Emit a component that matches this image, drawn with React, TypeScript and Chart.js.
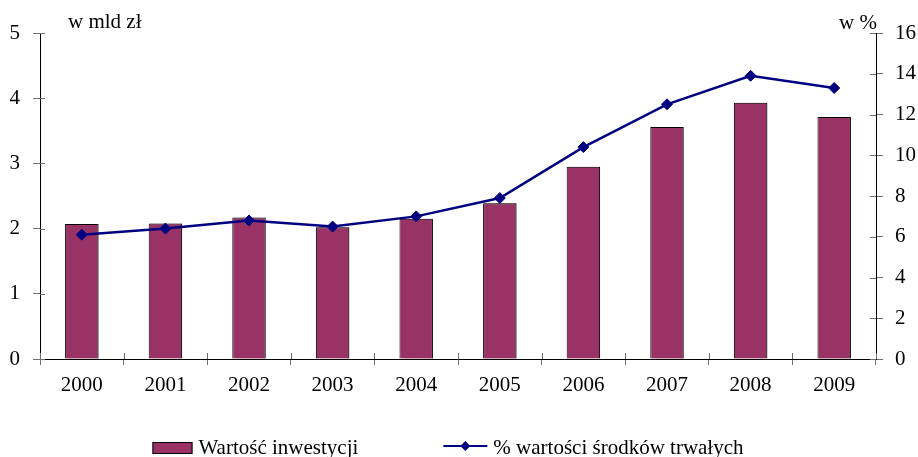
import { useEffect, useRef } from "react";
import { Chart, registerables } from "chart.js";

Chart.register(...registerables);

const years = ["2000", "2001", "2002", "2003", "2004", "2005", "2006", "2007", "2008", "2009"];
const investments = [2.07, 2.08, 2.17, 2.02, 2.15, 2.39, 2.95, 3.56, 3.93, 3.71];
const pctFixedAssets = [6.1, 6.4, 6.8, 6.5, 7.0, 7.9, 10.4, 12.5, 13.9, 13.3];

const barLabel = "Wartość inwestycji";
const lineLabel = "% wartości środków trwałych";
const leftAxisUnit = "w mld zł";
const rightAxisUnit = "w %";

const leftMin = 0;
const leftMax = 5;
const leftStep = 1;
const rightMin = 0;
const rightMax = 16;
const rightStep = 2;

const FONT = '"Liberation Serif", "Times New Roman", serif';
const BAR_COLOR = "#993366";
const LINE_COLOR = "#000080";
const TICK_COLOR = "#707070";

const crossTicksPlugin = {
  id: "crossTicks",
  afterDraw(chart: any) {
    const ctx = chart.ctx;
    ctx.save();
    ctx.strokeStyle = TICK_COLOR;
    ctx.lineWidth = 1;
    const yl = chart.scales.y;
    const yr = chart.scales.y1;
    const x = chart.scales.x;
    ctx.beginPath();
    yl.ticks.forEach((t: any) => {
      const py = Math.round(yl.getPixelForValue(t.value)) + 0.5;
      ctx.moveTo(yl.right, py);
      ctx.lineTo(yl.right + 5, py);
    });
    yr.ticks.forEach((t: any) => {
      const py = Math.round(yr.getPixelForValue(t.value)) + 0.5;
      ctx.moveTo(yr.left - 6, py);
      ctx.lineTo(yr.left, py);
    });
    for (let i = 0; i <= years.length; i++) {
      const px = Math.round(x.getPixelForValue(i - 0.5)) + 0.5;
      ctx.moveTo(px, x.top - 6);
      ctx.lineTo(px, x.top);
    }
    ctx.stroke();
    ctx.restore();
  },
};

const unitTitlesPlugin = {
  id: "unitTitles",
  afterDraw(chart: any) {
    const ctx = chart.ctx;
    const area = chart.chartArea;
    ctx.save();
    ctx.fillStyle = "#000";
    ctx.font = `21px ${FONT}`;
    ctx.textBaseline = "alphabetic";
    ctx.textAlign = "left";
    ctx.fillText(leftAxisUnit, area.left + 28, area.top - 5);
    ctx.textAlign = "right";
    ctx.fillText(rightAxisUnit, area.right + 1, area.top - 4);
    ctx.restore();
  },
};

const legendPlugin = {
  id: "customLegend",
  afterDraw(chart: any) {
    const ctx = chart.ctx;
    const area = chart.chartArea;
    const ds = chart.data.datasets;
    const bar = ds.find((d: any) => d.type === "bar");
    const line = ds.find((d: any) => d.type === "line");
    ctx.save();
    ctx.font = `21px ${FONT}`;
    ctx.textBaseline = "middle";
    ctx.textAlign = "left";
    const w1 = ctx.measureText(bar.label).width;
    const w2 = ctx.measureText(line.label).width;
    const sym1 = 40;
    const sym2 = 44;
    const gapText = 6;
    const gapItems = 85;
    const total = sym1 + gapText + w1 + gapItems + sym2 + gapText + w2;
    let cx = (area.left + area.right) / 2 - total / 2 - 10;
    const cy = 448;
    // bar symbol
    ctx.fillStyle = bar.backgroundColor;
    ctx.fillRect(cx, cy - 6, sym1, 12);
    ctx.strokeStyle = "#000";
    ctx.lineWidth = 1;
    ctx.strokeRect(cx + 0.5, cy - 6 + 0.5, sym1 - 1, 11);
    cx += sym1 + gapText;
    ctx.fillStyle = "#000";
    ctx.fillText(bar.label, cx, cy);
    cx += w1 + gapItems;
    // line symbol
    const ly = cy - 2;
    ctx.strokeStyle = line.borderColor;
    ctx.lineWidth = 2;
    ctx.beginPath();
    ctx.moveTo(cx, ly);
    ctx.lineTo(cx + sym2, ly);
    ctx.stroke();
    const dx = cx + sym2 / 2;
    const r = 5;
    ctx.fillStyle = line.borderColor;
    ctx.beginPath();
    ctx.moveTo(dx, ly - r);
    ctx.lineTo(dx + r, ly);
    ctx.lineTo(dx, ly + r);
    ctx.lineTo(dx - r, ly);
    ctx.closePath();
    ctx.fill();
    cx += sym2 + gapText;
    ctx.fillStyle = "#000";
    ctx.fillText(line.label, cx, cy);
    ctx.restore();
  },
};

const barShadowPlugin = {
  id: "barShadow",
  beforeDatasetDraw(chart: any, args: any) {
    if (chart.data.datasets[args.index].type !== "bar") return;
    const ctx = chart.ctx;
    ctx.save();
    ctx.shadowColor = "rgba(0,0,0,0.3)";
    ctx.shadowOffsetX = 2;
    ctx.shadowOffsetY = 0;
    ctx.shadowBlur = 1;
  },
  afterDatasetDraw(chart: any, args: any) {
    if (chart.data.datasets[args.index].type !== "bar") return;
    chart.ctx.restore();
  },
};

export default function App() {
  const canvasRef = useRef<HTMLCanvasElement | null>(null);

  useEffect(() => {
    document.body.style.margin = "0";
    const canvas = canvasRef.current;
    if (!canvas) return;
    const tickFont = { family: FONT, size: 21 };
    const chart = new Chart(canvas, {
      type: "bar",
      data: {
        labels: years,
        datasets: [
          {
            type: "bar",
            label: barLabel,
            data: investments,
            backgroundColor: BAR_COLOR,
            borderColor: "#000",
            borderWidth: 1,
            barPercentage: 0.4,
            categoryPercentage: 1,
            yAxisID: "y",
            order: 1,
          },
          {
            type: "line",
            label: lineLabel,
            data: pctFixedAssets,
            borderColor: LINE_COLOR,
            backgroundColor: LINE_COLOR,
            borderWidth: 2.5,
            pointStyle: "rectRot",
            pointRadius: 5.5,
            pointBorderWidth: 1,
            pointBackgroundColor: LINE_COLOR,
            pointBorderColor: LINE_COLOR,
            tension: 0,
            yAxisID: "y1",
            order: 0,
          },
        ],
      } as any,
      options: {
        responsive: false,
        animation: false,
        layout: { padding: { top: 33, left: 0, right: 0, bottom: 0 } },
        plugins: {
          legend: { display: false },
          tooltip: { enabled: false },
        },
        scales: {
          x: {
            offset: true,
            grid: {
              offset: true,
              drawOnChartArea: false,
              drawTicks: true,
              tickLength: 6,
              tickColor: TICK_COLOR,
            },
            border: { display: true, color: "#000", width: 1 },
            ticks: { font: tickFont, color: "#000", padding: 8, maxRotation: 0 },
            afterFit(scale: any) {
              scale.height = 98;
            },
          },
          y: {
            position: "left",
            min: leftMin,
            max: leftMax,
            ticks: { stepSize: leftStep, font: tickFont, color: "#000", padding: 13 },
            grid: { drawOnChartArea: false, tickLength: 7, tickColor: TICK_COLOR },
            border: { display: true, color: "#000", width: 1 },
            afterFit(scale: any) {
              scale.width = 40;
            },
          },
          y1: {
            position: "right",
            min: rightMin,
            max: rightMax,
            ticks: { stepSize: rightStep, font: tickFont, color: "#000", padding: 12 },
            grid: { drawOnChartArea: false, tickLength: 7, tickColor: TICK_COLOR },
            border: { display: true, color: "#000", width: 1 },
            afterFit(scale: any) {
              scale.width = 42;
            },
          },
        },
      } as any,
      plugins: [barShadowPlugin, crossTicksPlugin, unitTitlesPlugin, legendPlugin],
    });
    return () => chart.destroy();
  }, []);

  return (
    <div style={{ position: "absolute", left: 0, top: 0, width: 918, height: 457, background: "#fff" }}>
      <canvas ref={canvasRef} width={918} height={457} style={{ display: "block" }} />
    </div>
  );
}
